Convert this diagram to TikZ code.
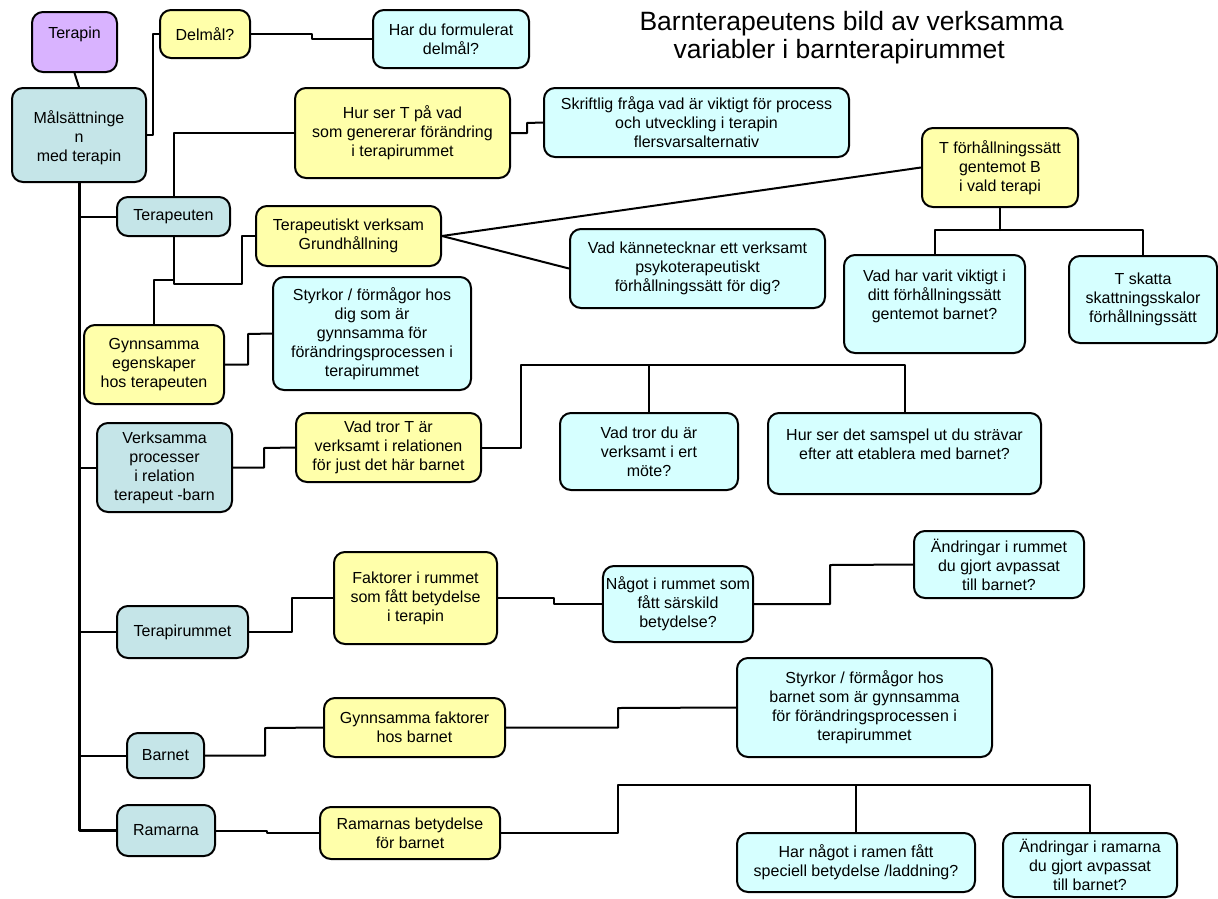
\documentclass[tikz,border=0pt]{standalone}
\usepackage{fontspec}
\setmainfont{Liberation Sans}
\usetikzlibrary{positioning}
\definecolor{lila}{RGB}{217,179,255}
\definecolor{petrol}{RGB}{197,229,232}
\definecolor{gul}{RGB}{255,255,170}
\definecolor{ljusbla}{RGB}{214,255,255}

\begin{document}
\begin{tikzpicture}[x=1pt,y=-1pt,line cap=round,line join=round,
	font=\fontsize{16}{19}\selectfont,
	box/.style={draw,line width=2pt,rounded corners=11pt,align=center,inner sep=3pt},
	sz/.style 2 args={minimum width=#1,minimum height=#2},
	rot/.style={box,fill=lila},
	mal/.style={box,fill=petrol},
	omr/.style={box,fill=gul},
	fraga/.style={box,fill=ljusbla},
	link/.style={line width=2pt}]
	\useasboundingbox (0,0) rectangle (1218,898);
	\node[font=\fontsize{26.5}{28}\selectfont,align=left,anchor=north west] (titel) at (636,8) {Barnterapeutens bild av verksamma\\\hspace*{34pt}variabler i barnterapirummet};
	\node[rot,sz={85}{60}] (terapin) at (74.5,42) {Terapin\\\mbox{}};
	\node[mal,sz={134}{94}] (malsatt) at (79,135) {\mbox{}\\Målsättninge\\n\\med terapin};
	\node[omr,sz={90}{48}] (delmal) at (205,34) {Delmål?};
	\node[fraga,sz={156}{58}] (hardu) at (451,39) {Har du formulerat\\delmål?};
	\node[omr,sz={215}{90}] (hurser) at (402.5,133) {Hur ser T på vad\\som genererar förändring\\i terapirummet};
	\node[fraga,sz={305}{69}] (skriftlig) at (696.5,122.5) {Skriftlig fråga vad är viktigt för process\\och utveckling i terapin\\flersvarsalternativ};
	\node[omr,sz={156}{79}] (tforh) at (1000,167.5) {T förhållningssätt\\gentemot B\\i vald terapi};
	\node[mal,sz={113}{39}] (terapeuten) at (173.5,216.5) {Terapeuten};
	\node[omr,sz={185}{60}] (grund) at (348.5,236) {Terapeutiskt verksam\\Grundhållning};
	\node[fraga,sz={255}{79}] (kannet) at (697.5,268.5) {Vad kännetecknar ett verksamt\\psykoterapeutiskt\\förhållningssätt för dig?};
	\node[fraga,sz={181}{98}] (varit) at (934.5,304) {Vad har varit viktigt i\\ditt förhållningssätt\\gentemot barnet?\\\mbox{}};
	\node[fraga,sz={148}{87}] (skatta) at (1143,299.5) {T skatta\\skattningsskalor\\förhållningssätt};
	\node[fraga,sz={198}{113}] (styrkdig) at (372,333.5) {Styrkor / förmågor hos\\dig som är\\gynnsamma för\\förändringsprocessen i\\terapirummet};
	\node[omr,sz={140}{79}] (egensk) at (154,364.5) {Gynnsamma\\egenskaper\\hos terapeuten};
	\node[mal,sz={135}{89}] (processer) at (164.5,467.5) {Verksamma\\processer\\i relation\\terapeut -barn};
	\node[omr,sz={185}{69}] (tror) at (388.5,447.5) {Vad tror T är\\verksamt i relationen\\för just det här barnet};
	\node[fraga,sz={178}{77}] (trordu) at (649,451.5) {Vad tror du är\\verksamt i ert\\möte?};
	\node[fraga,sz={273}{81}] (samspel) at (904.5,453.5) {Hur ser det samspel ut du strävar\\efter att etablera med barnet?\\\mbox{}};
	\node[mal,sz={131}{52}] (rummet) at (182.5,632) {Terapirummet};
	\node[omr,sz={163}{92}] (faktorer) at (415.5,598) {Faktorer i rummet\\som fått betydelse\\i terapin};
	\node[fraga,sz={144}{76}] (nagot) at (678,604) {Något i rummet som\\fått särskild\\betydelse?};
	\node[fraga,sz={170}{67}] (andrum) at (999,564.5) {Ändringar i rummet\\du gjort avpassat\\till barnet?};
	\node[fraga,sz={255}{99}] (styrkbarn) at (864.5,707.5) {Styrkor / förmågor hos\\barnet som är gynnsamma\\för förändringsprocessen i\\terapirummet};
	\node[omr,sz={181}{59}] (gynnfakt) at (414.5,727.5) {Gynnsamma faktorer\\hos barnet};
	\node[mal,sz={77}{45}] (barnet) at (165.5,755.5) {Barnet};
	\node[mal,sz={98}{51}] (ramarna) at (166,830.5) {Ramarna};
	\node[omr,sz={180}{52}] (ramarnas) at (410,833) {Ramarnas betydelse\\för barnet};
	\node[fraga,sz={238}{59}] (harnagot) at (856,862.5) {Har något i ramen fått\\speciell betydelse /laddning?};
	\node[fraga,sz={174}{64}] (andram) at (1090,865) {Ändringar i ramarna\\du gjort avpassat\\till barnet?};
	\coordinate (tforhbus) at (1000,230);
	\coordinate (trorbus) at (521,365);
	\coordinate (rambus) at (618,785);
	\draw[link] (terapin.south) -- (malsatt.north);
	\draw[link,line width=3pt] (malsatt.south) |- (ramarna.west);
	\foreach \n in {terapeuten,processer,rummet,barnet}
		\draw[link] (malsatt.south |- \n.west) -- (\n.west);
	\draw[link] (malsatt.east) -| (153,34) -- (delmal.west);
	\draw[link] (delmal.east) -| (312,39) -- (hardu.west);
	\draw[link] (hurser.west) -| (terapeuten.north);
	\draw[link] (hurser.east) -| (527,123) -- (skriftlig.west);
	\draw[link] (terapeuten.south) |- (242,284) |- (grund.west);
	\draw[link] (terapeuten.south) |- (154,280) -- (egensk.north);
	\draw[link] (grund.east) -- (tforh.west);
	\draw[link] (grund.east) -- (kannet.west);
	\draw[link] (tforh.south) -- (tforhbus);
	\draw[link] (varit.north) |- (tforhbus) -| (skatta.north);
	\draw[link] (egensk.east) -| (248,334) -- (styrkdig.west);
	\draw[link] (processer.east) -| (264,448) -- (tror.west);
	\draw[link] (tror.east) -| (trorbus) -| (samspel.north);
	\draw[link] (trordu.north) -- (trordu.north |- trorbus);
	\draw[link] (rummet.east) -| (292,598) -- (faktorer.west);
	\draw[link] (faktorer.east) -| (554,604) -- (nagot.west);
	\draw[link] (nagot.east) -| (830,565) -- (andrum.west);
	\draw[link] (barnet.east) -| (265,728) -- (gynnfakt.west);
	\draw[link] (gynnfakt.east) -| (618,708) -- (styrkbarn.west);
	\draw[link] (ramarna.east) -| (267,833) -- (ramarnas.west);
	\draw[link] (ramarnas.east) -| (rambus) -| (andram.north);
	\draw[link] (harnagot.north) -- (harnagot.north |- rambus);
\end{tikzpicture}
\end{document}
